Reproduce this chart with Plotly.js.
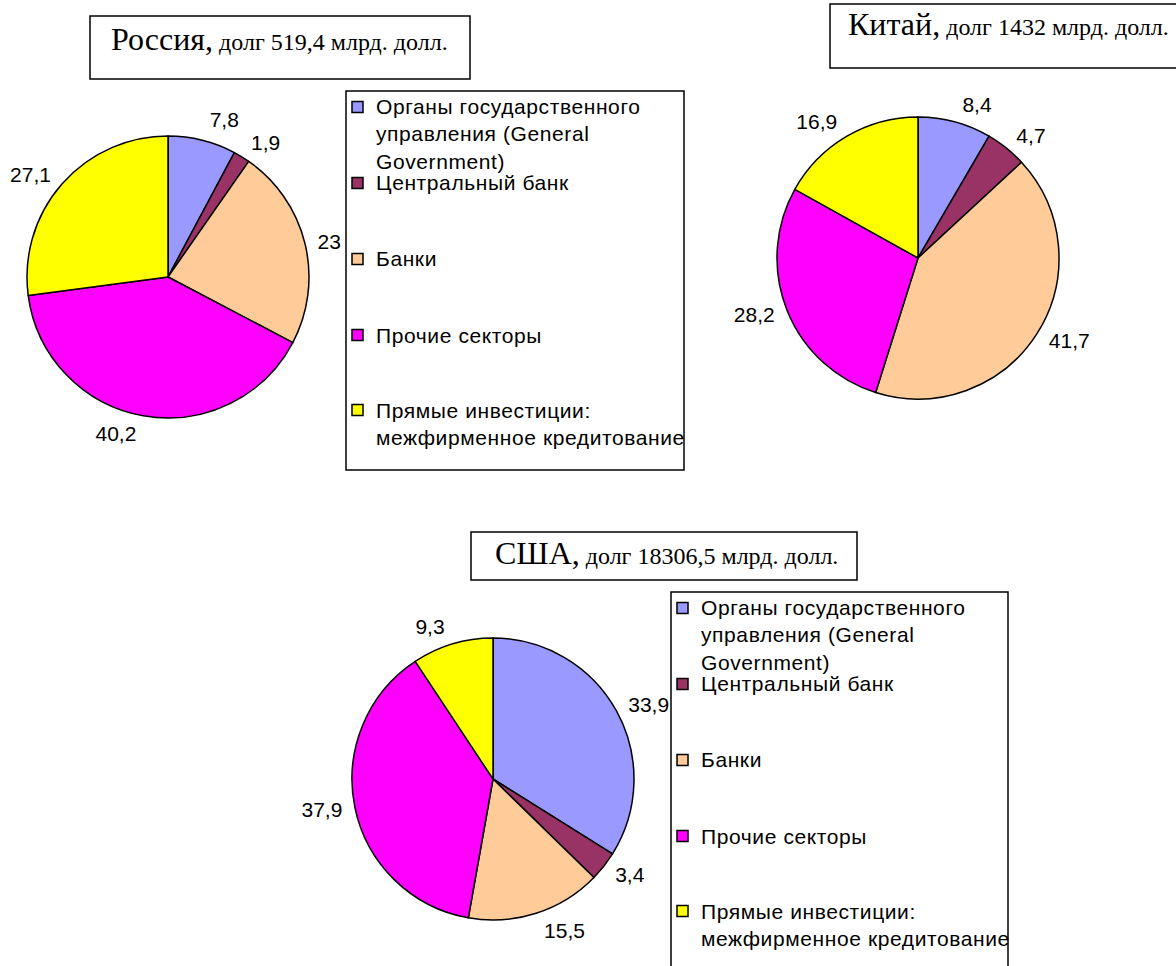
<!DOCTYPE html>
<html>
<head>
<meta charset="utf-8">
<script src="https://cdn.plot.ly/plotly-3.0.1.min.js"></script>
<style>
  html, body { margin: 0; padding: 0; background: #fff; }
  #chart { width: 1176px; height: 966px; }
  #chart path.textline { display: none; }
</style>
</head>
<body>
<div id="chart"></div>
<script>
// ---- data ----
const categories = [
  'Органы государственного управления (General Government)',
  'Центральный банк',
  'Банки',
  'Прочие секторы',
  'Прямые инвестиции: межфирменное кредитование'
];
const legendLabels = [
  'Органы государственного<br>управления (General<br>Government)',
  'Центральный банк',
  'Банки',
  'Прочие секторы',
  'Прямые инвестиции:<br>межфирменное кредитование'
];
const sliceColors = ['#9999FF', '#993366', '#FFCC99', '#FF00FF', '#FFFF00'];
const russiaValues = [7.8, 1.9, 23, 40.2, 27.1];
const chinaValues = [8.4, 4.7, 41.7, 28.2, 16.9];
const usaValues = [33.9, 3.4, 15.5, 37.9, 9.3];
const countryNames = ['Россия', 'Китай', 'США'];
const debtTotals = ['519,4', '1432', '18306,5'];

// ---- layout helpers ----
const W = 1176, H = 966;
const px = x => x / W;
const py = y => 1 - y / H;

function pieDomain(cx, cy, r) {
  return { x: [px(cx - r), px(cx + r)], y: [py(cy + r), py(cy - r)] };
}
const fmt = v => String(v).replace('.', ',');

// visible pie (no text)
function pieTrace(values, dom) {
  return {
    type: 'pie',
    values: values,
    labels: categories,
    textinfo: 'none',
    sort: false,
    direction: 'clockwise',
    rotation: 0,
    marker: { colors: sliceColors, line: { color: '#000', width: 1.5 } },
    domain: dom,
    showlegend: false,
    hoverinfo: 'none'
  };
}
// transparent companion pie that carries the data labels a bit further out
function labelTrace(values, dom) {
  return {
    type: 'pie',
    values: values,
    labels: categories,
    text: values.map(fmt),
    textinfo: 'text',
    textposition: 'outside',
    sort: false,
    direction: 'clockwise',
    rotation: 0,
    marker: { colors: values.map(() => 'rgba(0,0,0,0)'), line: { width: 0 } },
    textfont: { family: 'Arial, Liberation Sans, sans-serif', size: 21, color: '#000' },
    domain: dom,
    showlegend: false,
    hoverinfo: 'none'
  };
}

const pies = [
  { v: russiaValues, cx: 168, cy: 277 },
  { v: chinaValues, cx: 918, cy: 258 },
  { v: usaValues, cx: 493, cy: 779 }
];
const R = 141, RL = 148;
const data = [];
pies.forEach(p => {
  data.push(pieTrace(p.v, pieDomain(p.cx, p.cy, R)));
  data.push(labelTrace(p.v, pieDomain(p.cx, p.cy, RL)));
});

const shapes = [];
const annotations = [];

// title boxes
const titleBoxes = [
  { x0: 90, y0: 16, x1: 470, y1: 79, baseline: 49 },
  { x0: 830, y0: 4, x1: 1182, y1: 68, baseline: 34 },
  { x0: 471, y0: 532, x1: 857, y1: 580, baseline: 563 }
];
const titleCenters = [279, 1008, 666];
titleBoxes.forEach((b, i) => {
  shapes.push({ type: 'rect', xref: 'paper', yref: 'paper',
    x0: px(b.x0), x1: px(b.x1), y0: py(b.y1), y1: py(b.y0),
    line: { color: '#000', width: 1.5 }, fillcolor: 'rgba(0,0,0,0)' });
  annotations.push({
    xref: 'paper', yref: 'paper', x: px(titleCenters[i]), y: py(b.baseline - 30.5),
    xanchor: 'center', yanchor: 'top', showarrow: false,
    text: '<span style="font-size:32px">' + countryNames[i] + ',</span> долг ' + debtTotals[i] + ' млрд. долл.',
    font: { family: 'Times New Roman, Liberation Serif, serif', size: 24, color: '#000' }
  });
});

// legend boxes
const legendBoxes = [
  { x0: 346, y0: 91, x1: 684, y1: 470 },
  { x0: 671, y0: 592, x1: 1008, y1: 1000 }
];
const markerOffsets = [16, 92, 168, 244, 319];
const textBaselineOffsets = [23, 99, 175, 252, 327];
legendBoxes.forEach(b => {
  shapes.push({ type: 'rect', xref: 'paper', yref: 'paper',
    x0: px(b.x0), x1: px(b.x1), y0: py(b.y1), y1: py(b.y0),
    line: { color: '#000', width: 1.5 }, fillcolor: 'rgba(0,0,0,0)' });
  legendLabels.forEach((lab, i) => {
    const mc = b.y0 + markerOffsets[i];
    shapes.push({ type: 'rect', xref: 'paper', yref: 'paper',
      x0: px(b.x0 + 6), x1: px(b.x0 + 17), y0: py(mc + 5.5), y1: py(mc - 5.5),
      line: { color: '#000', width: 1.5 }, fillcolor: sliceColors[i] });
    const styled = lab.split('<br>').map(s => '<span style="letter-spacing:0.6px">' + s + '</span>').join('<br>');
    annotations.push({
      xref: 'paper', yref: 'paper', x: px(b.x0 + 28), y: py(b.y0 + textBaselineOffsets[i] - 21),
      xanchor: 'left', yanchor: 'top', align: 'left', showarrow: false,
      text: styled,
      font: { family: 'Arial, Liberation Sans, sans-serif', size: 21, color: '#000' }
    });
  });
});

const layout = {
  width: W, height: H,
  margin: { l: 0, r: 0, t: 0, b: 0 },
  paper_bgcolor: '#fff', plot_bgcolor: '#fff',
  showlegend: false,
  shapes: shapes,
  annotations: annotations
};

Plotly.newPlot('chart', data, layout, { displayModeBar: false, staticPlot: true });
</script>
</body>
</html>
